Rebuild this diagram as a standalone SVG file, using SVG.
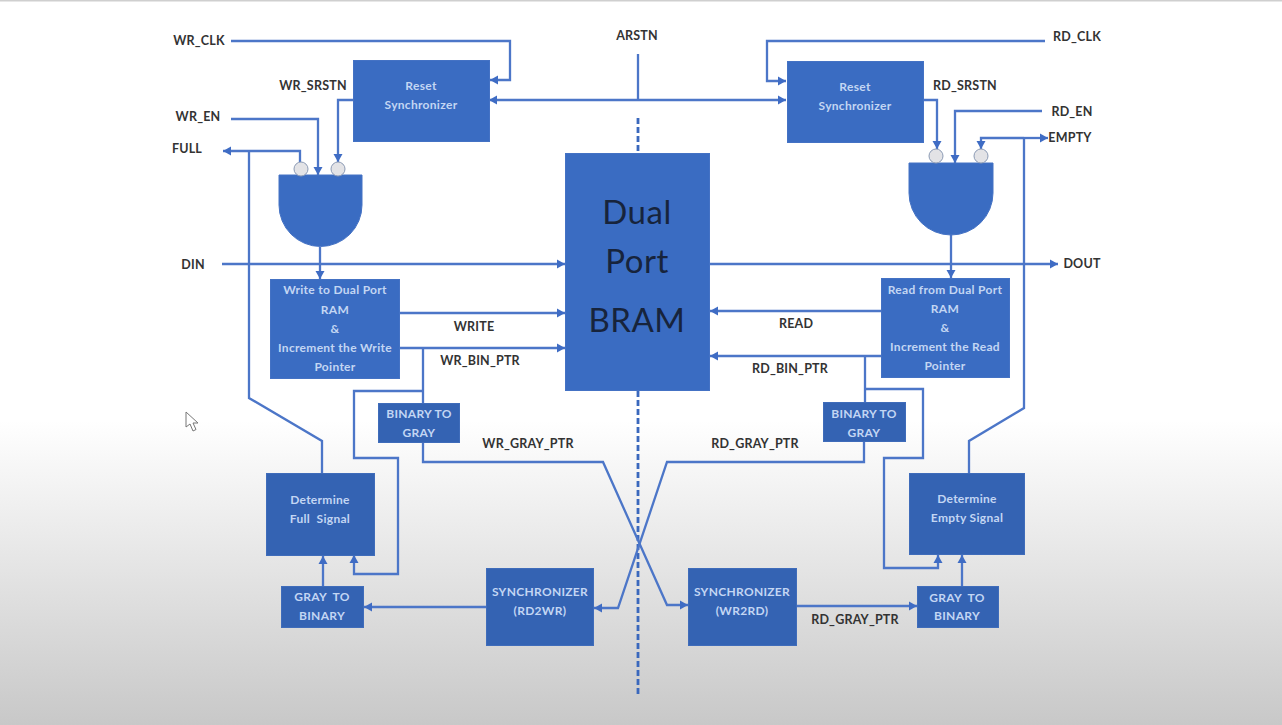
<svg xmlns="http://www.w3.org/2000/svg" width="1282" height="725" viewBox="0 0 1282 725">
<style>
.b{fill:#3a6cc2;stroke:#4472c4;stroke-width:1}
.d{fill:#3463b3;stroke:#3f6cba;stroke-width:1}
.l{fill:none;stroke:#4c76c8;stroke-width:2.300}
.a{marker-end:url(#ah)}
.s{marker-start:url(#ahs)}
.dash{fill:none;stroke:#3a68bd;stroke-width:2.800;stroke-dasharray:6 3}
.o{fill:#e3e3e6;stroke:#8c9bb5;stroke-width:1}
text{font-family:Lato,"Open Sans","Liberation Sans",sans-serif;white-space:pre}
.t{font-size:12.500px;font-weight:700;fill:#333;text-anchor:middle;letter-spacing:.2px}
.w{font-size:12px;font-weight:700;fill:#c3d6f3;text-anchor:middle;letter-spacing:.3px}
.big{font-size:33px;fill:#17243c;text-anchor:middle;letter-spacing:.5px}
</style>
<defs>
<marker id="ah" markerUnits="userSpaceOnUse" markerWidth="9" markerHeight="10" refX="8" refY="5" orient="auto"><path d="M0 0.5L8 5L0 9.500Z" fill="#3f6cc4"/></marker>
<marker id="ahs" markerUnits="userSpaceOnUse" markerWidth="9" markerHeight="10" refX="1" refY="5" orient="auto"><path d="M8 0.5L0 5L8 9.500Z" fill="#3f6cc4"/></marker>
<linearGradient id="bg" x1="0" y1="0" x2="0" y2="1"><stop offset="0" stop-color="#fff"/><stop offset=".58" stop-color="#fff"/><stop offset="1" stop-color="#c8c8c8"/></linearGradient>
</defs>
<rect width="1282" height="725" fill="url(#bg)"/>
<rect width="1282" height="1.500" fill="#cfcfcf"/>
<path d="M186 412V427L190 424L193 431L196 429.500L193 423L198 423Z" fill="#fff" stroke="#777" stroke-width="1"/>

<g id="connectors">
<path class="l a" d="M231 41H510V80H490"/>
<path class="l a" d="M1045 41H767V81H786"/>
<path class="l a s" d="M490 100H786"/>
<path class="l" d="M638 54V100"/>
<path class="dash" d="M638 118V153M638 391V697"/>
<path class="l a" d="M353 100H338V162"/>
<path class="l a" d="M231 119H318V175"/>
<path class="l a" d="M300 162V151H223"/>
<path class="l" d="M249 151V398L322 441V473"/>
<path class="l a" d="M320 247V279"/>
<path class="l a" d="M222 264H565"/>
<path class="l a" d="M399 313H565"/>
<path class="l a" d="M399 348H565"/>
<path class="l a" d="M709 264H1058"/>
<path class="l a" d="M881 311H710"/>
<path class="l a" d="M881 356H710"/>
<path class="l a" d="M923 100H937V149"/>
<path class="l a" d="M1042 111H955V163"/>
<path class="l a" d="M1024 138H981V149"/>
<path class="l a" d="M1024 138H1048"/>
<path class="l" d="M969 473V441L1024 408V138"/>
<path class="l a" d="M951 235V278"/>
<path class="l" d="M423 348V403"/>
<path class="l a" d="M423 391H354V458H398V574H354V555"/>
<path class="l a" d="M423 442V462H603L667 605H688"/>
<path class="l" d="M865 356V402"/>
<path class="l a" d="M865 389H923V458H884V568H938V555"/>
<path class="l a" d="M864 441V462H667L618 608H594"/>
<path class="l a" d="M486 607H364"/>
<path class="l a" d="M796 606H917"/>
<path class="l a" d="M323 586V556"/>
<path class="l a" d="M962 586V555"/>
</g>

<g id="reset-sync-wr"><rect class="b" x="353.500" y="60.500" width="136" height="81"/><text class="w" x="421" y="90">Reset</text><text class="w" x="421" y="109">Synchronizer</text></g>
<g id="reset-sync-rd"><rect class="b" x="787.500" y="61.500" width="136" height="81"/><text class="w" x="855" y="91">Reset</text><text class="w" x="855" y="110">Synchronizer</text></g>
<g id="and-wr"><path class="b" d="M279 175H362V205A41.500 41.500 0 0 1 279 205Z"/><circle class="o" cx="301" cy="169" r="7"/><circle class="o" cx="338" cy="169" r="7"/></g>
<g id="and-rd"><path class="b" d="M909 163H993V193A42 42 0 0 1 909 193Z"/><circle class="o" cx="936" cy="156" r="7"/><circle class="o" cx="981" cy="156" r="7"/></g>
<g id="bram"><rect class="b" x="565.500" y="153.500" width="144" height="237"/><text class="big" x="637" y="224">Dual</text><text class="big" x="637" y="273">Port</text><text class="big" x="637" y="332">BRAM</text></g>
<g id="write-block"><rect class="b" x="270.500" y="279.500" width="129" height="99"/><text class="w" x="335" y="294">Write to Dual Port</text><text class="w" x="335" y="314">RAM</text><text class="w" x="335" y="333">&amp;</text><text class="w" x="335" y="352">Increment the Write</text><text class="w" x="335" y="371">Pointer</text></g>
<g id="read-block"><rect class="b" x="881.500" y="278.500" width="128" height="99"/><text class="w" x="945" y="294">Read from Dual Port</text><text class="w" x="945" y="313">RAM</text><text class="w" x="945" y="332">&amp;</text><text class="w" x="945" y="351">Increment the Read</text><text class="w" x="945" y="370">Pointer</text></g>
<g id="bin2gray-wr"><rect class="d" x="378.500" y="403.500" width="81" height="39"/><text class="w" x="419" y="418">BINARY TO</text><text class="w" x="419" y="437">GRAY</text></g>
<g id="bin2gray-rd"><rect class="d" x="823.500" y="402.500" width="82" height="39"/><text class="w" x="864" y="418">BINARY TO</text><text class="w" x="864" y="437">GRAY</text></g>
<g id="full-block"><rect class="d" x="266.500" y="473.500" width="108" height="82"/><text class="w" x="320" y="504">Determine</text><text class="w" x="320" y="523">Full  Signal</text></g>
<g id="empty-block"><rect class="d" x="909.500" y="473.500" width="115" height="81"/><text class="w" x="967" y="503">Determine</text><text class="w" x="967" y="522">Empty Signal</text></g>
<g id="gray2bin-wr"><rect class="d" x="281.500" y="586.500" width="82" height="41"/><text class="w" x="322" y="601">GRAY  TO</text><text class="w" x="322" y="620">BINARY</text></g>
<g id="gray2bin-rd"><rect class="d" x="917.500" y="586.500" width="81" height="41"/><text class="w" x="957" y="602">GRAY  TO</text><text class="w" x="957" y="620">BINARY</text></g>
<g id="sync-rd2wr"><rect class="d" x="486.500" y="568.500" width="107" height="77"/><text class="w" x="540" y="596">SYNCHRONIZER</text><text class="w" x="540" y="615">(RD2WR)</text></g>
<g id="sync-wr2rd"><rect class="d" x="688.500" y="568.500" width="108" height="77"/><text class="w" x="742" y="596">SYNCHRONIZER</text><text class="w" x="742" y="615">(WR2RD)</text></g>

<g id="labels">
<text class="t" x="199" y="45">WR_CLK</text>
<text class="t" x="313" y="90">WR_SRSTN</text>
<text class="t" x="198" y="121">WR_EN</text>
<text class="t" x="187" y="153">FULL</text>
<text class="t" x="193" y="269">DIN</text>
<text class="t" x="474" y="331">WRITE</text>
<text class="t" x="480" y="365">WR_BIN_PTR</text>
<text class="t" x="528" y="448">WR_GRAY_PTR</text>
<text class="t" x="637" y="40">ARSTN</text>
<text class="t" x="1077" y="41">RD_CLK</text>
<text class="t" x="965" y="90">RD_SRSTN</text>
<text class="t" x="1072" y="116">RD_EN</text>
<text class="t" x="1070" y="142">EMPTY</text>
<text class="t" x="1082" y="268">DOUT</text>
<text class="t" x="796" y="328">READ</text>
<text class="t" x="790" y="373">RD_BIN_PTR</text>
<text class="t" x="755" y="448">RD_GRAY_PTR</text>
<text class="t" x="855" y="624">RD_GRAY_PTR</text>
</g>
</svg>
